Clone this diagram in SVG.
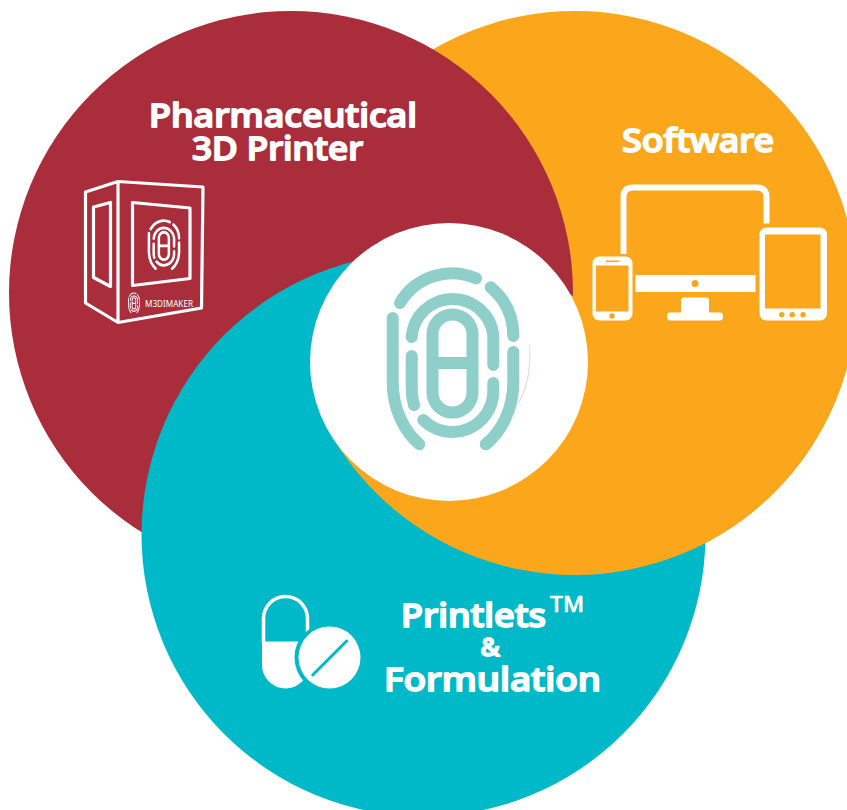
<svg xmlns="http://www.w3.org/2000/svg" width="847" height="810" viewBox="0 0 847 810">
<style>
.t{font-family:"Noto Sans","Open Sans","Liberation Sans",sans-serif;font-weight:500;font-size:33px;fill:#fff;stroke:#fff;stroke-width:1.800;stroke-linejoin:round;stroke-linecap:round}
.fp{fill:none;stroke-linecap:round;stroke-linejoin:round}
.w{fill:#fff}
.o{fill:none;stroke:#fff;stroke-width:3.200;stroke-linejoin:round}
.oc{fill:#FCA61C}
</style>
<defs>
<clipPath id="lowerClip"><polygon points="449,362 449,296 847,296 847,810 0,810 0,440 334,440"/></clipPath>
<g id="fingerprint" class="fp">
<rect x="432.500" y="314.500" width="40" height="98" rx="20" ry="20" stroke-linecap="butt"/>
<path d="M432.500 363H472.500" stroke-linecap="butt"/>
<path d="M411.700 337A41 41 0 0 1 493.300 335V365"/>
<path d="M411.700 356V388Q411.700 397 414 405"/>
<path d="M493.300 383V392A41 41 0 0 1 423.300 420"/>
<path d="M400 303A60.500 60.500 0 0 1 476 278.300"/>
<path d="M490.700 287.300Q513.300 306 513.300 336"/>
<path d="M513.300 352V382C513.300 410 501 432 485.700 444.300"/>
<path d="M392.700 318V382C392.700 410 405 432 419.300 444.300"/>
</g>
</defs>
<rect width="847" height="810" fill="#fff"/>
<g id="circle-software"><circle class="oc" cx="575" cy="293" r="282"/></g>
<g id="circle-printer"><circle cx="291" cy="293" r="282" fill="#A92D3B"/></g>
<g id="circle-printlets"><circle cx="423.500" cy="534.500" r="282" fill="#00B9C8"/></g>
<g id="circle-software-overlap" clip-path="url(#lowerClip)"><circle class="oc" cx="575" cy="293" r="282"/></g>
<g id="centre">
<circle cx="449" cy="362" r="139" fill="#fff"/>
<path d="M529.500 345Q532 380 518 404" fill="none" stroke="#e6dcdc" stroke-width="1.200"/>
<use href="#fingerprint" stroke="#8FCFCA" stroke-width="12"/>
</g>
<g id="printer">
<text class="t" x="149" y="127" textLength="268" lengthAdjust="spacingAndGlyphs">Pharmaceutical</text>
<text class="t" x="192" y="160" textLength="171" lengthAdjust="spacingAndGlyphs">3D Printer</text>
<path class="o" d="M85.500 192L118 181.500L203 187L201.500 308L118 322.500L85.500 303ZM118 181.500V322.500"/>
<path class="o" d="M93.500 207L110.500 202.500V286.500L93.500 277.500Z"/>
<path class="o" d="M132.500 202.500L190 208V278.500L132.500 285.500Z"/>
<use href="#fingerprint" stroke="#fff" stroke-width="10" transform="translate(164 245) scale(.25 .28) translate(-453 -360)"/>
<use href="#fingerprint" stroke="#fff" stroke-width="10" transform="translate(134 303) scale(.09 .115) translate(-453 -360)"/>
<text x="145" y="307" font-family="'Noto Sans','Liberation Sans',sans-serif" font-size="9" fill="#fff" textLength="48" lengthAdjust="spacingAndGlyphs">M3DIMAKER</text>
</g>
<g id="software">
<text class="t" x="622" y="152" textLength="152" lengthAdjust="spacingAndGlyphs">Software</text>
<path d="M623.500 254V197Q623.500 187.500 633 187.500H757Q766.500 187.500 766.500 197V223.500" fill="none" stroke="#fff" stroke-width="6"/>
<rect class="w" x="635.500" y="275" width="120" height="17"/>
<circle class="oc" cx="695" cy="283.500" r="3.500"/>
<path class="w" d="M681 300Q681 297.500 684 297.500H706Q709 297.500 709 300V312.500H720Q723 312.500 723 316.500Q723 320.500 720 320.500H670Q667 320.500 667 316.500Q667 312.500 670 312.500H681Z"/>
<rect class="w" x="592.500" y="256.500" width="40" height="64" rx="7"/>
<rect class="oc" x="596" y="265.500" width="32.500" height="46"/>
<rect class="oc" x="606" y="260.500" width="13.500" height="1.500"/>
<circle class="oc" cx="612" cy="316" r="2.700"/>
<rect class="w" x="759.500" y="227.500" width="67.500" height="93" rx="7"/>
<rect class="oc" x="765" y="234.500" width="55.500" height="74"/>
<circle class="oc" cx="781.700" cy="314.700" r="2.700"/>
<circle class="oc" cx="792.300" cy="314.700" r="2.700"/>
<circle class="oc" cx="803" cy="314.700" r="2.700"/>
</g>
<g id="printlets">
<path d="M263.500 642V618.500A22 22 0 0 1 307.500 618.500V642" fill="none" stroke="#fff" stroke-width="3.500"/>
<path class="w" d="M262 641.500H309V665A23.500 23.500 0 0 1 262 665Z"/>
<circle cx="329.500" cy="657.500" r="35" fill="#00B9C8"/>
<circle cx="329.500" cy="657.500" r="31" fill="#fff"/>
<path d="M312.700 675L346.700 641" stroke="#00B9C8" stroke-width="3" stroke-linecap="round" fill="none"/>
<text class="t" x="401" y="627" textLength="145" lengthAdjust="spacingAndGlyphs">Printlets</text>
<text class="t" x="550" y="612" style="font-size:21px;stroke-width:.6px" textLength="34" lengthAdjust="spacingAndGlyphs">TM</text>
<text class="t" x="490" y="656" style="font-size:26px" text-anchor="middle">&amp;</text>
<text class="t" x="384" y="691" textLength="217" lengthAdjust="spacingAndGlyphs">Formulation</text>
</g>
</svg>
